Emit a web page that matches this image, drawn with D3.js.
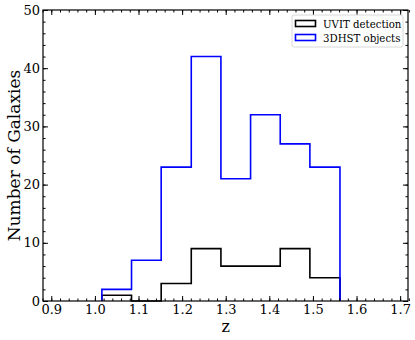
<!DOCTYPE html>
<html>
<head>
<meta charset="utf-8">
<script src="https://cdn.jsdelivr.net/npm/d3@7"></script>
<style>
  body { margin: 0; background: #fff; }
  svg { display: block; font-family: 'DejaVu Serif', serif; }
</style>
</head>
<body>
<div id="chart"></div>
<script>
// histogram of redshift, step outlines
const binEdges = [1.016, 1.084, 1.152, 1.221, 1.289, 1.357, 1.425, 1.493, 1.562];
const uvitCounts = [1, 0, 3, 9, 6, 6, 9, 4];
const hstCounts = [2, 7, 23, 42, 21, 32, 27, 23];
const xTicks = [0.9, 1.0, 1.1, 1.2, 1.3, 1.4, 1.5, 1.6, 1.7];
const yTicks = [0, 10, 20, 30, 40, 50];
const seriesNames = ['UVIT detection', '3DHST objects'];
const seriesColors = ['#000000', '#0000ff'];

const width = 415, height = 340;
const margin = { top: 10, right: 7, bottom: 39, left: 43 };
const innerW = width - margin.left - margin.right;
const innerH = height - margin.top - margin.bottom;

const svg = d3.select('#chart').append('svg')
  .attr('width', width)
  .attr('height', height);

const g = svg.append('g')
  .attr('transform', 'translate(' + margin.left + ',' + margin.top + ')');

const x = d3.scaleLinear().domain([0.881, 1.718]).range([0, innerW]);
const y = d3.scaleLinear().domain([0, 50]).range([innerH, 0]);

// step path for a histogram
function stepPoints(counts) {
  const pts = [[binEdges[0], 0]];
  counts.forEach(function (c, i) {
    pts.push([binEdges[i], c]);
    pts.push([binEdges[i + 1], c]);
  });
  pts.push([binEdges[binEdges.length - 1], 0]);
  return pts;
}

const line = d3.line()
  .x(function (d) { return x(d[0]); })
  .y(function (d) { return y(d[1]); });

[uvitCounts, hstCounts].forEach(function (counts, i) {
  g.append('path')
    .attr('d', line(stepPoints(counts)))
    .attr('fill', 'none')
    .attr('stroke', seriesColors[i])
    .attr('stroke-width', 1.6);
});

// axes: ticks inward on all four sides
const xMinor = d3.range(0.88, 1.7201, 0.02);
const yMinor = d3.range(0, 50.01, 2);

function tickAxis(axisFn, scale, vals, len, labels) {
  const a = axisFn(scale).tickValues(vals).tickSizeInner(-len).tickSizeOuter(0);
  if (!labels) a.tickFormat('');
  else a.tickFormat(labels);
  return a;
}

const axBottom = g.append('g').attr('transform', 'translate(0,' + innerH + ')');
axBottom.call(tickAxis(d3.axisBottom, x, xMinor, 2.5, null));
axBottom.append('g').call(tickAxis(d3.axisBottom, x, xTicks, 5, d3.format('.1f')));

const axTop = g.append('g');
axTop.call(tickAxis(d3.axisTop, x, xMinor, 2.5, null));
axTop.append('g').call(tickAxis(d3.axisTop, x, xTicks, 5, null));

const axLeft = g.append('g');
axLeft.call(tickAxis(d3.axisLeft, y, yMinor, 2.5, null));
axLeft.append('g').call(tickAxis(d3.axisLeft, y, yTicks, 5, d3.format('d')));

const axRight = g.append('g').attr('transform', 'translate(' + innerW + ',0)');
axRight.call(tickAxis(d3.axisRight, y, yMinor, 2.5, null));
axRight.append('g').call(tickAxis(d3.axisRight, y, yTicks, 5, null));

g.selectAll('.domain').remove();
g.selectAll('.tick line').attr('stroke', '#000').attr('stroke-width', 1);
g.selectAll('.tick text')
  .attr('fill', '#000')
  .style('font-size', '13px')
  .style('font-family', "'DejaVu Serif', serif");
axBottom.selectAll('.tick text').attr('dy', '0.75em').attr('y', 3);
axLeft.selectAll('.tick text').attr('x', -3);

// frame
g.append('rect')
  .attr('width', innerW)
  .attr('height', innerH)
  .attr('fill', 'none')
  .attr('stroke', '#000')
  .attr('stroke-width', 1.2);

// axis labels
svg.append('text')
  .attr('x', margin.left + x(1.3))
  .attr('y', 332)
  .attr('text-anchor', 'middle')
  .style('font-size', '16px')
  .text('z');

svg.append('text')
  .attr('transform', 'translate(19.5,' + (margin.top + innerH / 2) + ') rotate(-90)')
  .attr('text-anchor', 'middle')
  .style('font-size', '17px')
  .text('Number of Galaxies');

// legend
const legend = svg.append('g').attr('transform', 'translate(292,15)');
legend.append('rect')
  .attr('width', 111)
  .attr('height', 32)
  .attr('rx', 2)
  .attr('fill', '#fff')
  .attr('fill-opacity', 0.8)
  .attr('stroke', '#d8d8d8')
  .attr('stroke-width', 1);

seriesNames.forEach(function (name, i) {
  const row = legend.append('g').attr('transform', 'translate(0,' + (5.5 + i * 14) + ')');
  row.append('rect')
    .attr('x', 3.5)
    .attr('y', 0)
    .attr('width', 20)
    .attr('height', 6)
    .attr('fill', 'none')
    .attr('stroke', seriesColors[i])
    .attr('stroke-width', 1.6);
  row.append('text')
    .attr('x', 31)
    .attr('y', 7)
    .style('font-size', '10.2px')
    .text(name);
});
</script>
</body>
</html>
